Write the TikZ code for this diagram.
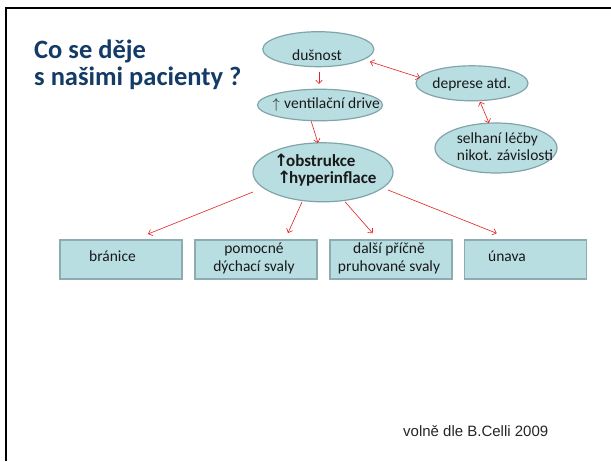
\documentclass[tikz,border=0pt]{standalone}
\usepackage{fontspec}
\setmainfont{Carlito}
\newfontfamily\footfont{Liberation Sans}
\newfontfamily\symfont{DejaVu Sans}
\usetikzlibrary{arrows.meta,shapes.geometric}
\definecolor{titleblue}{RGB}{20,58,102}
\definecolor{fillteal}{RGB}{184,222,226}
\definecolor{edgeteal}{RGB}{128,164,170}
\definecolor{boxedge}{RGB}{140,172,178}
\definecolor{arrred}{RGB}{228,32,32}
\begin{document}
\begin{tikzpicture}[x=1pt,y=-1pt,
  oval/.style={ellipse,draw=edgeteal,fill=fillteal,line width=1.2pt,inner sep=0pt},
  boxnode/.style={rectangle,draw=boxedge,fill=fillteal,line width=1.2pt,minimum width=122pt,minimum height=39pt,inner sep=0pt},
  txt/.style={inner sep=0pt,font=\fontsize{15.5}{18.7}\selectfont,text=black!90},
  conn/.style={draw=arrred,line width=0.6pt,-{Straight Barb[length=3.5pt,width=6.5pt]}},
  conn2/.style={draw=arrred,line width=0.6pt,{Straight Barb[length=3.5pt,width=6.5pt]}-{Straight Barb[length=3.5pt,width=6.5pt]}},
]
\useasboundingbox (0,0) rectangle (611,461);
\fill[white] (0,0) rectangle (611,461);
\draw[line width=2.3pt] (6,461) -- (6,8) -- (611,8);

% title (base anchor = last line)
\node[anchor=base west,align=left,inner sep=0pt,text=titleblue,font=\fontsize{26.5}{27.5}\selectfont\bfseries] (title) at (34,85.8) {Co se děje\\s našimi pacienty ?};

% ellipses
\node[oval,minimum width=111pt,minimum height=35pt] (dus) at (318.3,49.2) {};
\node[oval,minimum width=125pt,minimum height=31.5pt] (ven) at (320,105) {};
\node[oval,minimum width=112pt,minimum height=35pt] (dep) at (472,83.3) {};
\node[oval,minimum width=122pt,minimum height=50pt] (sel) at (496,148) {};
\node[oval,minimum width=140pt,minimum height=59pt] (obs) at (323,172.3) {};

\node[txt,anchor=base] (tdus) at (317,60) {dušnost};
\node[txt,anchor=base west] (tven) at (273,108.3) {\makebox[6pt]{$\uparrow$}\hspace{5pt}ventilační drive};
\node[txt,anchor=base] (tdep) at (471.7,88.3) {deprese atd.};
\node[txt,anchor=base west,align=left,font=\fontsize{15.5}{17}\selectfont] (tsel) at (456.7,160) {selhaní léčby\\nikot. závislosti};
\node[txt,anchor=base west,align=left,font=\fontsize{17}{16.5}\selectfont\bfseries] (tobs) at (276,183) {\makebox[10pt]{\symfont\bfseries ↑}obstrukce\\\hspace*{3pt}\makebox[10pt]{\symfont\bfseries ↑}hyperinflace};

% boxes
\node[boxnode] (b1) at (121,259.5) {};
\node[boxnode] (b2) at (256,259.5) {};
\node[boxnode] (b3) at (391,259.5) {};
\node[boxnode] (b4) at (525.5,259.5) {};

\node[txt,anchor=base] (tb1) at (112.5,261.7) {bránice};
\node[txt,anchor=base,align=center] (tb2) at (254,271.7) {pomocné\\dýchací svaly};
\node[txt,anchor=base,align=center] (tb3) at (389,271.7) {další příčně\\pruhované svaly};
\node[txt,anchor=base] (tb4) at (507,261.7) {únava};

% footer
\node[anchor=base west,inner sep=0pt,font=\footfont\fontsize{15}{18}\selectfont,text=black!85] (foot) at (403,436) {volně dle B.Celli 2009};

% connector ends
\coordinate (a1s) at (319,71.7);   \coordinate (a1e) at (319,84);
\coordinate (a2s) at (311,120.7);  \coordinate (a2e) at (318,143);
\coordinate (a3s) at (370,61.7);   \coordinate (a3e) at (420,77.7);
\coordinate (a4s) at (480,101.7);  \coordinate (a4e) at (489,123);
\coordinate (a5s) at (253,192);    \coordinate (a5e) at (148,234);
\coordinate (a6s) at (302,202);    \coordinate (a6e) at (288,233);
\coordinate (a7s) at (345,201.7);  \coordinate (a7e) at (372.7,233.3);
\coordinate (a8s) at (388,190);    \coordinate (a8e) at (496.7,233.3);

\draw[conn] (a1s) -- (a1e);
\draw[conn] (a2s) -- (a2e);
\draw[conn2] (a3s) -- (a3e);
\draw[conn2] (a4s) -- (a4e);
\draw[conn] (a5s) -- (a5e);
\draw[conn] (a6s) -- (a6e);
\draw[conn] (a7s) -- (a7e);
\draw[conn] (a8s) -- (a8e);
\end{tikzpicture}
\end{document}
